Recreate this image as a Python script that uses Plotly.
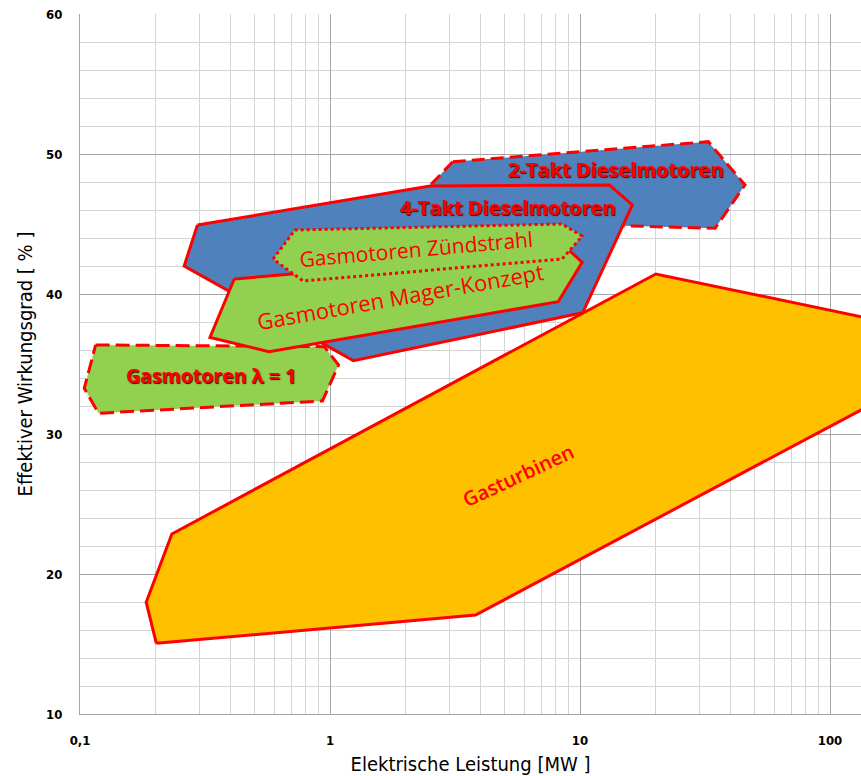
import numpy as np
import plotly.graph_objects as go

# Elektrische Leistung [MW] (x) und Wirkungsgrad [%] (y) der Umrisse
takt2_mw = [3.1, 32.6, 45.7, 34.7, 8.3, 2.25]
takt2_eta = [49.45, 50.88, 47.79, 44.69, 45.0, 46.86]

takt4_mw = [0.295, 2.51, 13.1, 16.2, 10.25, 1.24, 0.261]
takt4_eta = [44.93, 47.71, 47.79, 46.36, 38.66, 35.24, 42.0]

lambda1_mw = [0.1155, 0.949, 1.082, 0.933, 0.1187, 0.104]
lambda1_eta = [36.36, 36.24, 34.93, 32.36, 31.48, 33.26]

mager_mw = [0.414, 9.03, 10.2, 8.18, 0.57, 0.331]
mager_eta = [41.07, 43.14, 42.26, 39.45, 35.88, 36.9]

zuend_mw = [0.592, 0.724, 8.47, 10.2, 9.04, 8.47, 0.78]
zuend_eta = [42.5, 44.57, 45.0, 44.14, 43.07, 42.5, 40.93]

gt_mw = [0.202, 0.184, 0.233, 20.1, 200.0, 200.0, 3.82]
gt_eta = [15.05, 17.98, 22.86, 41.43, 37.72, 33.4, 17.07]

# Beschriftungen: Text, Position (MW, %), Drehwinkel
label_text = ["2-Takt Dieselmotoren", "4-Takt Dieselmotoren", "Gasmotoren Zündstrahl",
              "Gasmotoren Mager-Konzept", "Gasmotoren λ = 1", "Gasturbinen"]
label_mw = [13.9, 5.15, 2.21, 1.92, 0.334, 5.65]
label_eta = [48.86, 46.21, 43.21, 39.86, 34.21, 27.07]
label_angle = [0, 0, -5, -10, 0, -25]

x_tickvals = [0.1, 1, 10, 100]
x_ticktext = ["0,1", "1", "10", "100"]
y_tickvals = [10, 20, 30, 40, 50, 60]

BLUE = "#4F81BD"
GREEN = "#92D050"
ORANGE = "#FFC000"
RED = "#FF0000"

fig = go.Figure()


def area(xs, ys, fill, dash):
    fig.add_trace(go.Scatter(
        x=xs + xs[:1], y=ys + ys[:1], mode="lines", fill="toself",
        fillcolor=fill, line=dict(color=RED, width=3, dash=dash),
        hoverinfo="skip", showlegend=False))


area(takt2_mw, takt2_eta, BLUE, "13px,6px")
area(takt4_mw, takt4_eta, BLUE, "solid")
area(lambda1_mw, lambda1_eta, GREEN, "14px,6px")
area(mager_mw, mager_eta, GREEN, "solid")
area(zuend_mw, zuend_eta, GREEN, "3px,3px")
area(gt_mw, gt_eta, ORANGE, "solid")

label_font = "'Open Sans', 'Noto Sans', sans-serif"
label_style = [
    dict(size=20, weight="bold", shadow="1px 1px 1px #3a0000"),
    dict(size=20, weight="bold", shadow="1px 1px 1px #3a0000"),
    dict(size=21),
    dict(size=22),
    dict(size=19.5, weight="bold", shadow="1px 1px 1px #3a0000"),
    dict(size=20, weight=600),
]
for t, mx, ey, ang, st in zip(label_text, label_mw, label_eta, label_angle, label_style):
    f = dict(family=label_font, color=RED, **st)
    fig.add_annotation(x=np.log10(mx), y=ey, xref="x", yref="y", text=t,
                       showarrow=False, textangle=ang, font=f)

axis_font = "'Liberation Sans Narrow', 'DejaVu Sans Condensed', 'Arial Narrow', sans-serif"
minor_x = [m * 10.0 ** d for d in (-1, 0, 1, 2) for m in range(2, 10)]

fig.update_xaxes(
    type="log", range=[-1, 2.124],
    tickmode="array", tickvals=x_tickvals, ticktext=x_ticktext,
    tickfont=dict(family=axis_font, size=13, color="#000", weight="bold"),
    ticklabelstandoff=14,
    showgrid=True, gridcolor="#A6A6A6", gridwidth=1,
    minor=dict(tickvals=minor_x, showgrid=True, gridcolor="#D4D4D4", gridwidth=1),
    showline=True, linecolor="#A6A6A6", linewidth=1,
    zeroline=False,
    title=dict(text="Elektrische Leistung [MW ]", standoff=10,
               font=dict(family=axis_font, size=20, color="#000")),
)
fig.update_yaxes(
    range=[10, 60],
    tickmode="array", tickvals=y_tickvals,
    tickfont=dict(family=axis_font, size=13, color="#000", weight="bold"),
    ticklabelstandoff=14,
    showgrid=True, gridcolor="#A6A6A6", gridwidth=1,
    minor=dict(dtick=2, showgrid=True, gridcolor="#D4D4D4", gridwidth=1),
    showline=True, linecolor="#A6A6A6", linewidth=1,
    zeroline=False,
    title=dict(text="Effektiver Wirkungsgrad [ % ]", standoff=8,
               font=dict(family=axis_font, size=20, color="#000")),
)

fig.update_layout(
    width=861, height=776,
    margin=dict(l=80, r=0, t=14, b=62),
    paper_bgcolor="white", plot_bgcolor="white",
    separators=",.",
    showlegend=False,
)

fig.write_html("out.html")
